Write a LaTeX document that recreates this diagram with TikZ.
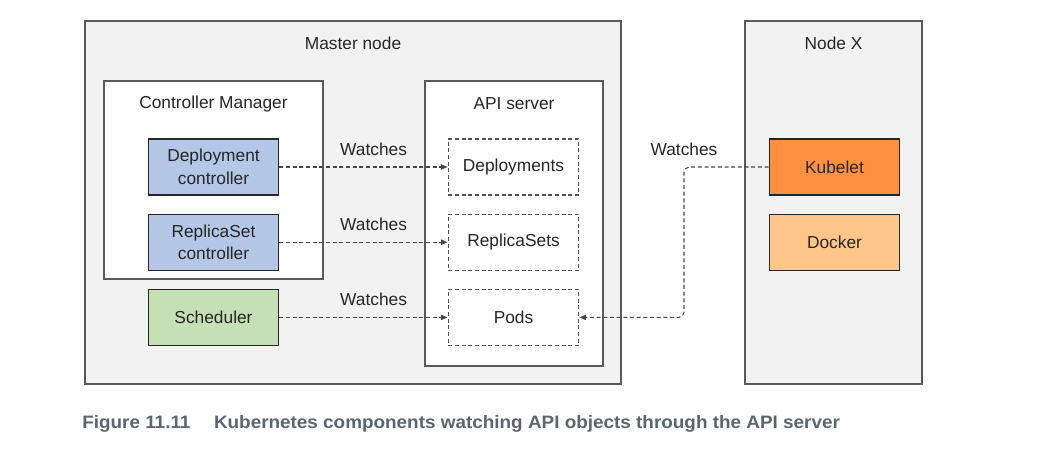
\documentclass[tikz,border=0pt]{standalone}
\usepackage{fontspec}
\setmainfont{Liberation Sans}
\newfontfamily\captionfont[FakeStretch=1.05]{Liberation Sans}
\usetikzlibrary{arrows.meta,positioning,calc}
\definecolor{Frame}{HTML}{F2F2F2}
\definecolor{Edge}{HTML}{595959}
\definecolor{Ink}{HTML}{262626}
\definecolor{CtrlBlue}{HTML}{B4C7E7}
\definecolor{SchedGreen}{HTML}{C5E0B4}
\definecolor{KubeOrange}{HTML}{FF9040}
\definecolor{DockOrange}{HTML}{FFC68C}
\definecolor{CaptionGray}{HTML}{5B6570}

\begin{document}
\begin{tikzpicture}[
  x=0.75pt,y=-0.75pt,
  node distance=13.5pt,
  every node/.style={font=\fontsize{13}{17}\selectfont,text=Ink},
  group/.style={draw=Edge,line width=1.1pt,fill=Frame,inner sep=0pt},
  panel/.style={draw=Edge,line width=0.9pt,fill=white,inner sep=0pt},
  grouptitle/.style={inner sep=0pt},
  comp/.style={draw=Ink,line width=0.9pt,align=center,minimum width=98pt,minimum height=42pt,inner sep=2pt},
  res/.style={comp,draw=Ink!80,dash pattern=on 3pt off 2pt,fill=white},
  watch/.style={-{Triangle[length=5pt,width=4pt]},draw=Ink!85,line width=0.8pt,dash pattern=on 3pt off 2pt},
  watchlabel/.style={above,yshift=5pt},
  capt/.style={font=\captionfont\bfseries\fontsize{13.5}{16}\selectfont,text=CaptionGray,inner sep=0pt}
]
\useasboundingbox (0,0) rectangle (1037,456);

% outer frames
\node[group,minimum width=402pt,minimum height=272.25pt] (master) at (353,202.5) {};
\node[grouptitle] at ($(master.north)+(0,23)$) {Master node};
\node[group,minimum width=132.75pt,minimum height=272.25pt] (nodex) at (833.5,202.5) {};
\node[grouptitle] at ($(nodex.north)+(0,23)$) {Node X};

\node[panel,minimum width=164.25pt,minimum height=148.5pt] (ctrlmgr) at (213.5,180) {};
\node[grouptitle] at ($(ctrlmgr.north)+(0,24)$) {Controller Manager};
\node[panel,minimum width=133.5pt,minimum height=213.75pt] (apiserver) at (514,223.5) {};
\node[grouptitle] at ($(apiserver.north)+(0,23)$) {API server};

% components
\node[comp,fill=CtrlBlue] (depctl) at (213.5,167) {Deployment\\controller};
\node[comp,fill=CtrlBlue,below=of depctl] (rsctl) {ReplicaSet\\controller};
\node[comp,fill=SchedGreen,below=of rsctl] (sched) {Scheduler};

\node[res] (deps) at (513.5,167) {Deployments};
\node[res,below=of deps] (replsets) {ReplicaSets};
\node[res,below=of replsets] (pods) {Pods};

\node[comp,fill=KubeOrange] (kubelet) at (834.5,167) {Kubelet};
\node[comp,fill=DockOrange,below=of kubelet] (docker) {Docker};

% watches
\draw[watch] (depctl) -- node[watchlabel,pos=0.56] {Watches} (deps);
\draw[watch] (rsctl) -- node[watchlabel,pos=0.56] {Watches} (replsets);
\draw[watch] (sched) -- node[watchlabel,pos=0.56] {Watches} (pods);
\coordinate (turn) at (684,167);
\draw[watch,rounded corners=4pt] (kubelet.west) -- (turn) node[watchlabel] {Watches} |- (pods.east);

% caption
\node[capt,anchor=base west] (fignum) at (82,428) {Figure 11.11};
\node[capt,anchor=base west] (figtext) at ($(fignum.base east)+(23,0)$) {Kubernetes components watching API objects through the API server};
\end{tikzpicture}
\end{document}
